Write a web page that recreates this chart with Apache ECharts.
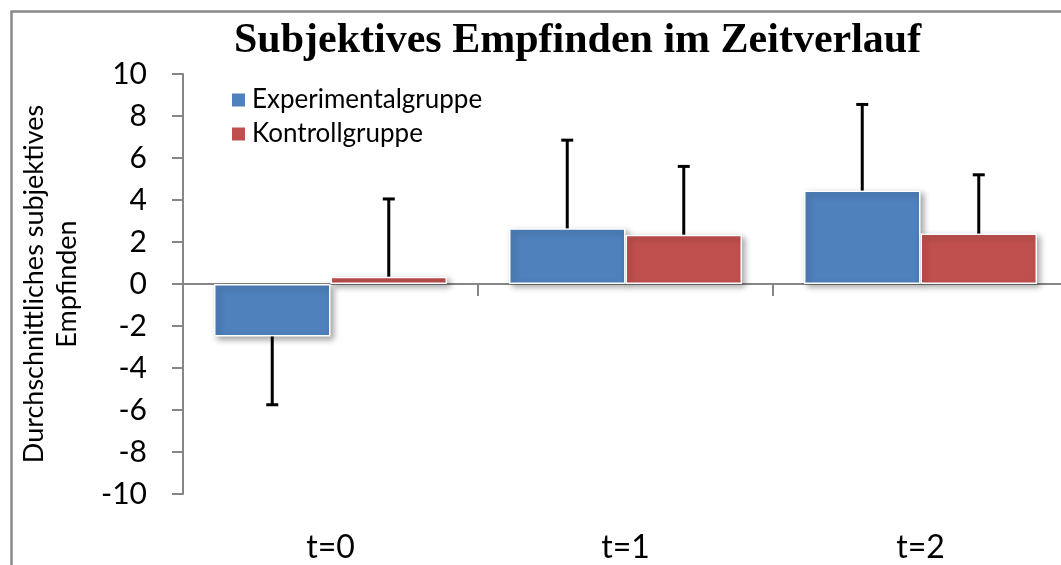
<!DOCTYPE html>
<html>
<head>
<meta charset="utf-8">
<script src="https://cdn.jsdelivr.net/npm/echarts@6/dist/echarts.min.js"></script>
<style>html,body{margin:0;padding:0;background:#fff;}#chart{width:1061px;height:565px;}</style>
</head>
<body>
<div id="chart"></div>
<script>
const categories = ['t=0', 't=1', 't=2'];
const seriesNames = ['Experimentalgruppe', 'Kontrollgruppe'];
const expValues = [-2.5, 2.65, 4.45];
const expErrorEnds = [-5.75, 6.85, 8.55];
const kontrollValues = [0.35, 2.35, 2.4];
const kontrollErrorEnds = [4.05, 5.6, 5.2];
const yTicks = [-10, -8, -6, -4, -2, 0, 2, 4, 6, 8, 10];

const colors = ['#4F81BD', '#C0504D'];
const catGap = 0.21;

function errData(values, ends) {
  return values.map((v, i) => [i, v, ends[i]]);
}
function makeErr(side) {
  return function (params, api) {
    const cat = api.value(0), v = api.value(1), e = api.value(2);
    const bw = api.size([1, 0])[0];
    const barW = bw * (1 - catGap) / 2;
    const off = side * barW / 2;
    const p0 = api.coord([cat, v]);
    const p1 = api.coord([cat, e]);
    const x = p0[0] + off;
    return {
      type: 'group',
      children: [
        {type: 'line', shape: {x1: x, y1: p0[1], x2: x, y2: p1[1]}, style: {stroke: '#000', lineWidth: 3}},
        {type: 'line', shape: {x1: x - 6, y1: p1[1], x2: x + 6, y2: p1[1]}, style: {stroke: '#000', lineWidth: 3}}
      ]
    };
  };
}

const chart = echarts.init(document.getElementById('chart'));
const barStyle = (c) => ({
  color: c, borderColor: '#fff', borderWidth: 1.5,
  shadowBlur: 6, shadowColor: 'rgba(0,0,0,0.35)', shadowOffsetX: 3, shadowOffsetY: 3
});
chart.setOption({
  animation: false,
  backgroundColor: '#fff',
  graphic: [{
    type: 'rect', left: 9, top: 9, shape: {width: 1100, height: 600},
    style: {fill: 'none', stroke: '#8a8a8a', lineWidth: 2.5}, z: -1
  }],
  title: {
    text: 'Subjektives Empfinden im Zeitverlauf',
    left: 229, top: 15,
    textStyle: {fontFamily: 'Liberation Serif', fontWeight: 'bold', fontSize: 42, color: '#000'}
  },
  legend: {
    orient: 'vertical', left: 225, top: 82, itemWidth: 15, itemHeight: 15, itemGap: 8,
    icon: 'rect',
    data: seriesNames,
    textStyle: {fontFamily: 'Lato', fontSize: 26, lineHeight: 20, color: '#000', padding: [0, 0, 0, 1]}
  },
  grid: {left: 183, right: -7, top: 74, bottom: 71, containLabel: false, outerBoundsMode: 'none'},
  xAxis: {
    type: 'category', data: categories,
    axisLine: {onZero: true, lineStyle: {color: '#868686', width: 2}},
    axisTick: {show: true, length: 12, lineStyle: {color: '#868686', width: 2}},
    axisLabel: {margin: 38, fontFamily: 'Lato', fontSize: 32, color: '#000'},
    splitLine: {show: false}
  },
  yAxis: {
    type: 'value', min: -10, max: 10, interval: 2,
    name: 'Durchschnittliches subjektives\nEmpfinden',
    nameLocation: 'middle', nameRotate: 90, nameGap: 99,
    nameTextStyle: {fontFamily: 'Lato', fontSize: 27, color: '#000', lineHeight: 33, align: 'center'},
    axisLine: {show: true, lineStyle: {color: '#868686', width: 2}},
    axisTick: {show: true, length: 11, lineStyle: {color: '#868686', width: 2}},
    axisLabel: {margin: 36, fontFamily: 'Lato', fontSize: 30, color: '#000'},
    splitLine: {show: false}
  },
  series: [
    {name: seriesNames[0], type: 'bar', data: expValues, barGap: '0%', barCategoryGap: '21%', itemStyle: barStyle(colors[0])},
    {name: seriesNames[1], type: 'bar', data: kontrollValues, barGap: '0%', barCategoryGap: '21%', itemStyle: barStyle(colors[1])},
    {type: 'custom', renderItem: makeErr(-1), data: errData(expValues, expErrorEnds), z: 5, silent: true},
    {type: 'custom', renderItem: makeErr(1), data: errData(kontrollValues, kontrollErrorEnds), z: 5, silent: true}
  ]
});
</script>
</body>
</html>
